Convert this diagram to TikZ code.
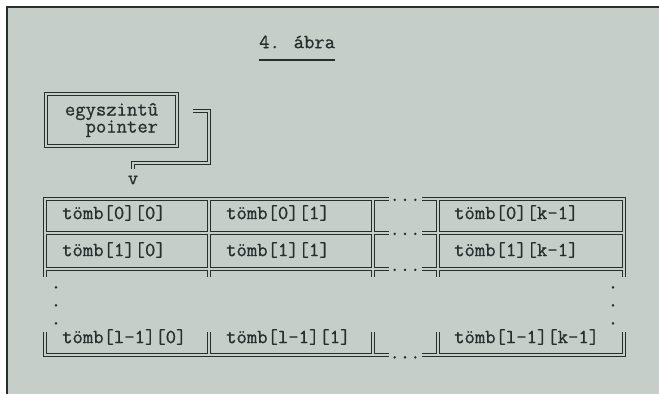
\documentclass[tikz,border=0pt]{standalone}
\usepackage{fontspec}
\newfontfamily\typewr{Latin Modern Mono}[FakeBold=0.8]
\definecolor{bgc}{RGB}{198,206,202}
\definecolor{ink}{RGB}{40,46,46}
\begin{document}
\begin{tikzpicture}[x=1pt,y=-1pt,
  dline/.style={draw=ink, line width=1.05pt, double=bgc, double distance=1.2pt, line join=miter},
  mono/.style={font=\typewr\fontsize{20.1}{17}\selectfont, text=ink, inner sep=0pt},
  cell/.style={mono, anchor=west},
  dotmark/.style={mono, anchor=base}]
\useasboundingbox (0,0) rectangle (659,394);
\fill[white] (0,0) rectangle (659,394);
\fill[bgc] (7,7) rectangle (659,394);
\draw[ink, line width=1.6pt] (7,394) -- (7,7) -- (659,7);
% title
\node[mono, anchor=west] (title) at (259,42) {4. ábra};
\coordinate (ul) at (0,60);
\draw[ink, line width=1.2pt] (title.west |- ul) -- (title.east |- ul);
% pointer box
\node[dline, rectangle, minimum width=131pt, minimum height=52pt, mono, align=right] (ptr) at (111.5,120) {egyszintû\\pointer};
\coordinate (pstart) at (193,111);
\node[mono] (vhead) at (133,180) {v};
\draw[dline] (pstart) -- (209,111) -- (209,163) -| ([yshift=6pt]vhead.north);
% table grid
\draw[dline] (45,277) |- (389,199) (422,199) -| (624,277)
 (45,233) -- (389,233) (422,233) -- (624,233)
 (45,269) -- (389,269) (422,269) -- (624,269)
 (209,199) -- (209,277) (373,199) -- (373,277) (438,199) -- (438,277)
 (45,332) |- (389,355) (422,355) -| (624,332)
 (209,332) -- (209,355) (373,332) -- (373,355) (438,332) -- (438,355);
% cells
\node[cell] (c00) at (62,213) {tömb[0][0]};
\node[cell] (c01) at (226,213) {tömb[0][1]};
\node[cell] (c0k) at (454,213) {tömb[0][k-1]};
\node[cell] (c10) at (62,250) {tömb[1][0]};
\node[cell] (c11) at (226,250) {tömb[1][1]};
\node[cell] (c1k) at (454,250) {tömb[1][k-1]};
\node[cell] (cl0) at (62,337) {tömb[l-1][0]};
\node[cell] (cl1) at (226,337) {tömb[l-1][1]};
\node[cell] (clk) at (454,337) {tömb[l-1][k-1]};
% horizontal dots
\node[dotmark] (h0) at (405,201) {...};
\node[dotmark] (h1) at (405,235) {...};
\node[dotmark] (h2) at (405,271) {...};
\node[dotmark] (h3) at (405,358.5) {...};
% vertical dots
\node[dotmark] (vl1) at (56,288.5) {.};
\node[dotmark] (vl2) at (56,306.5) {.};
\node[dotmark] (vl3) at (56,324.5) {.};
\node[dotmark] (vr1) at (613,288.5) {.};
\node[dotmark] (vr2) at (613,306.5) {.};
\node[dotmark] (vr3) at (613,324.5) {.};
\end{tikzpicture}
\end{document}
